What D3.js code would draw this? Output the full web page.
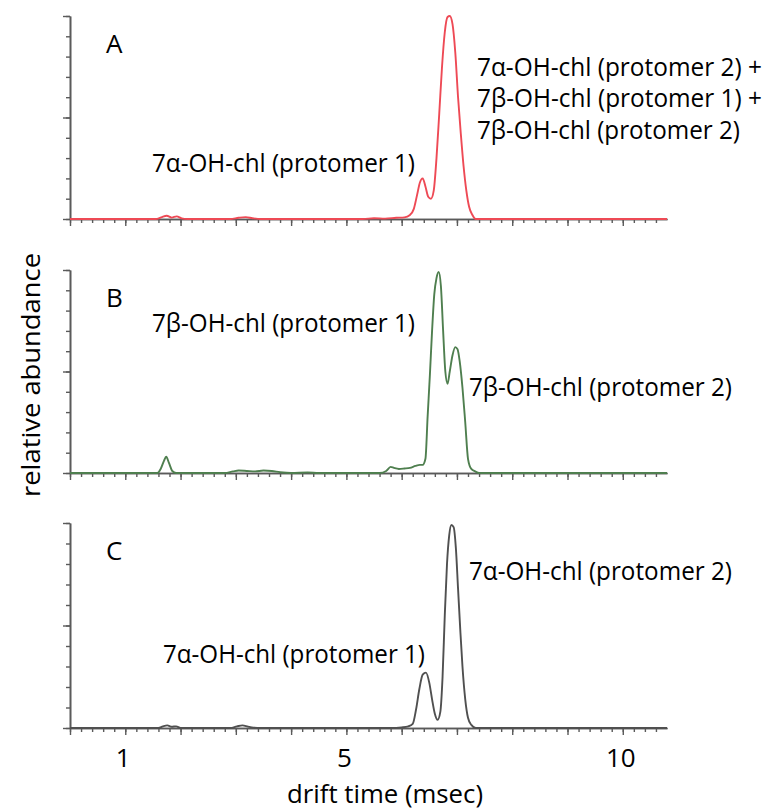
<!DOCTYPE html>
<html>
<head>
<meta charset="utf-8">
<script src="https://cdn.jsdelivr.net/npm/d3@7"></script>
<style>
  html, body { margin: 0; padding: 0; background: #ffffff; }
  svg { display: block; }
  text { font-family: "Open Sans", "Noto Sans", sans-serif; fill: #000; }
</style>
</head>
<body>
<svg id="chart" width="769" height="812"></svg>
<script>
// ---------------- DATA ----------------
// Panel A (red)
const driftTimeA = [0, 1.55, 1.65, 1.75, 1.84, 1.93, 2.02, 2.12, 2.9, 3.05, 3.18, 3.3, 3.45, 5.3, 5.5, 5.7, 5.9, 6.05, 6.15, 6.22, 6.28, 6.33, 6.38, 6.43, 6.48, 6.53, 6.58, 6.63, 6.68, 6.73, 6.78, 6.83, 6.87, 6.92, 6.97, 7.02, 7.07, 7.12, 7.17, 7.22, 7.28, 7.34, 7.5, 10.8];
const abundanceA = [0, 0, 0.8, 1.6, 0.7, 1.3, 0.3, 0, 0, 0.6, 0.9, 0.4, 0, 0, 0.4, 0.2, 0.6, 0.8, 2, 5, 12, 18, 20, 16, 11, 10, 14, 30, 52, 75, 92, 99.5, 100, 96, 82, 60, 42, 26, 14, 6, 2, 0, 0, 0];

// Panel B (green)
const driftTimeB = [0, 1.58, 1.64, 1.7, 1.74, 1.79, 1.85, 1.92, 2.8, 2.95, 3.05, 3.2, 3.35, 3.5, 3.65, 3.8, 4.0, 4.3, 4.5, 4.7, 5.6, 5.72, 5.8, 5.86, 5.95, 6.05, 6.15, 6.25, 6.33, 6.38, 6.43, 6.47, 6.51, 6.55, 6.59, 6.63, 6.67, 6.71, 6.75, 6.79, 6.83, 6.87, 6.92, 6.97, 7.01, 7.05, 7.1, 7.15, 7.2, 7.26, 7.33, 7.4, 10.8];
const abundanceB = [0, 0, 2, 6, 8, 5, 1, 0, 0, 0.8, 1.2, 1, 0.8, 1.2, 1, 0.4, 0, 0.3, 0, 0, 0, 1, 3, 2.5, 2, 2.2, 2.5, 3.5, 4, 4, 7, 28, 48, 70, 88, 96, 99, 92, 70, 50, 44, 50, 58, 62, 61, 55, 42, 25, 7, 2, 0.8, 0, 0];

// Panel C (grey)
const driftTimeC = [0, 1.6, 1.68, 1.76, 1.84, 1.92, 2.0, 2.9, 3.02, 3.12, 3.22, 3.32, 3.45, 5.8, 6.0, 6.12, 6.2, 6.26, 6.32, 6.38, 6.44, 6.5, 6.55, 6.6, 6.65, 6.7, 6.74, 6.78, 6.82, 6.86, 6.9, 6.94, 6.98, 7.02, 7.06, 7.1, 7.15, 7.2, 7.26, 7.34, 10.8];
const abundanceC = [0, 0, 0.8, 1.3, 0.6, 0.8, 0, 0, 0.8, 1.3, 0.7, 0.2, 0, 0, 0.3, 0.8, 2, 9, 19, 26, 27, 22, 14, 7, 4, 8, 25, 55, 80, 94, 99, 98, 88, 68, 48, 30, 14, 5, 1.5, 0, 0];

const panelLetters = ["A", "B", "C"];
const xTickLabels = [1, 5, 10];
const xAxisTitle = "drift time (msec)";
const yAxisTitle = "relative abundance";
const annotationsA = ["7α-OH-chl (protomer 1)", "7α-OH-chl (protomer 2) +", "7β-OH-chl (protomer 1) +", "7β-OH-chl (protomer 2)"];
const annotationsB = ["7β-OH-chl (protomer 1)", "7β-OH-chl (protomer 2)"];
const annotationsC = ["7α-OH-chl (protomer 2)", "7α-OH-chl (protomer 1)"];

// ---------------- LAYOUT ----------------
const svg = d3.select("#chart");
svg.append("rect").attr("width", 769).attr("height", 812).attr("fill", "#fff");

const xDomain = [0, 10.8];
const x = d3.scaleLinear().domain(xDomain).range([70, 667]);

const panels = [
  { t: driftTimeA, a: abundanceA, top: 16,  bottom: 219, color: "#ee4a55", notes: annotationsA,
    pos: [[152, 172, 263], [477, 76, 285], [477, 107, 285], [477, 139, 263]] },
  { t: driftTimeB, a: abundanceB, top: 270, bottom: 473, color: "#4f7f4f", notes: annotationsB,
    pos: [[152, 332, 263], [469, 396, 263]] },
  { t: driftTimeC, a: abundanceC, top: 523, bottom: 728, color: "#505050", notes: annotationsC,
    pos: [[469, 580, 263], [163, 663, 262]] }
];

const axisColor = "#5a5a5a";
const minorX = d3.range(0, 10.61, 0.2).map(v => +v.toFixed(1));
const majorX = d3.range(0, 11, 1);
const minorY = d3.range(0, 101, 10);
const majorY = [0, 50, 100];

function styleAxis(g) {
  g.selectAll("path").attr("stroke", axisColor).attr("stroke-width", 1.6);
  g.selectAll("line").attr("stroke", axisColor).attr("stroke-width", 1.4);
  g.selectAll("text").remove();
}

panels.forEach((p, i) => {
  const y = d3.scaleLinear().domain([0, 100]).range([p.bottom, p.top]);

  // y axis
  svg.append("g").attr("transform", `translate(${x(0)},0)`)
    .call(d3.axisLeft(y).tickValues(minorY).tickSize(4).tickSizeOuter(0).tickFormat(""))
    .call(styleAxis);
  svg.append("g").attr("transform", `translate(${x(0)},0)`)
    .call(d3.axisLeft(y).tickValues(majorY).tickSize(7).tickSizeOuter(0).tickFormat(""))
    .call(styleAxis);

  // x axis
  svg.append("g").attr("transform", `translate(0,${y(0)})`)
    .call(d3.axisBottom(x).tickValues(minorX).tickSize(4).tickSizeOuter(0).tickFormat(""))
    .call(styleAxis);
  svg.append("g").attr("transform", `translate(0,${y(0)})`)
    .call(d3.axisBottom(x).tickValues(majorX).tickSize(7).tickSizeOuter(0).tickFormat(""))
    .call(styleAxis);

  // trace
  const pts = p.t.map((t, k) => [t, p.a[k]]);
  const line = d3.line().x(d => x(d[0])).y(d => y(d[1])).curve(d3.curveMonotoneX);
  svg.append("path").datum(pts)
    .attr("d", line)
    .attr("fill", "none")
    .attr("stroke", p.color)
    .attr("stroke-width", 1.9)
    .attr("stroke-linejoin", "round");

  // panel letter
  svg.append("text")
    .attr("x", 106).attr("y", p.top + 37)
    .attr("font-size", 26)
    .text(panelLetters[i]);

  // annotations
  p.notes.forEach((txt, k) => {
    const [px, py, len] = p.pos[k];
    svg.append("text")
      .attr("x", px).attr("y", py)
      .attr("font-size", 25)
      .attr("textLength", len)
      .attr("lengthAdjust", "spacingAndGlyphs")
      .text(txt);
  });
});

// x tick labels (bottom panel only)
const lastBottom = panels[2].bottom;
svg.selectAll("text.xtick").data(xTickLabels).enter().append("text")
  .attr("class", "xtick")
  .attr("x", d => x(d) - 2)
  .attr("y", lastBottom + 39)
  .attr("text-anchor", "middle")
  .attr("font-size", 26)
  .text(d => d);

// axis titles
svg.append("text")
  .attr("x", 385).attr("y", 803)
  .attr("text-anchor", "middle")
  .attr("font-size", 26)
  .attr("textLength", 196)
  .attr("lengthAdjust", "spacingAndGlyphs")
  .text(xAxisTitle);

svg.append("text")
  .attr("transform", "translate(40,375) rotate(-90)")
  .attr("text-anchor", "middle")
  .attr("font-size", 26)
  .attr("textLength", 244)
  .attr("lengthAdjust", "spacingAndGlyphs")
  .text(yAxisTitle);
</script>
</body>
</html>
